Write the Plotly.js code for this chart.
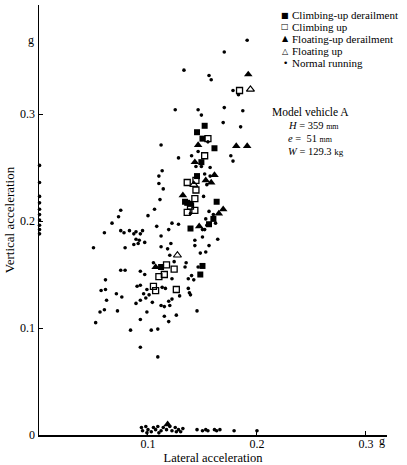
<!DOCTYPE html>
<html><head><meta charset="utf-8">
<script src="https://cdn.plot.ly/plotly-3.0.1.min.js"></script>
<style>html,body{margin:0;padding:0;background:#fff}#chart{width:407px;height:465px}</style>
</head><body><div id="chart"></div>
<script>
// ---- data ----
const seriesNames = ['Climbing-up derailment', 'Climbing up', 'Floating-up derailment', 'Floating up', 'Normal running'];
const legendGlyphs = ['\u25A0', '\u25A1', '\u25B2', '\u25B3', '\u2022'];

const climbDerX = [0.152,0.145,0.150,0.161,0.149,0.145,0.163,0.134,0.136,0.139,0.160,0.156,0.139,0.112,0.150,0.148];
const climbDerY = [0.289,0.283,0.277,0.268,0.255,0.242,0.218,0.218,0.217,0.216,0.202,0.197,0.193,0.157,0.158,0.150];

const climbX = [0.184,0.155,0.152,0.136,0.144,0.144,0.143,0.139,0.136,0.143,0.117,0.124,0.115,0.110,0.105,0.107,0.126];
const climbY = [0.322,0.277,0.261,0.236,0.238,0.229,0.221,0.214,0.208,0.210,0.159,0.155,0.150,0.148,0.139,0.135,0.136];

const floatDerX = [0.192,0.146,0.181,0.191,0.143,0.161,0.153,0.158,0.132,0.169,0.165,0.147,0.107,0.118];
const floatDerY = [0.337,0.271,0.270,0.270,0.255,0.243,0.238,0.236,0.224,0.211,0.207,0.195,0.157,0.010];

const floatX = [0.194,0.142,0.127];
const floatY = [0.323,0.234,0.168];

const normalX = [
  0.191,0.170,0.133,0.156,0.158,0.178,0.183,0.125,0.146,0.149,0.170,0.187,0.169,0.185,0.155,0.112,0.128,0.140,0.146,0.176,
  0.178,0.149,0.157,0.144,0.113,0.110,0.152,0.157,0.154,0.110,0.114,0.151,0.111,0.139,0.156,0.106,0.100,0.160,0.153,0.162,
  0.154,0.150,0.152,0.122,0.128,0.108,0.119,0.095,0.093,0.150,0.164,0.112,0.097,0.121,0.143,0.143,0.156,0.112,0.118,0.148,
  0.153,0.120,0.124,0.135,0.134,0.105,0.146,0.122,0.097,0.140,0.137,0.142,0.113,0.116,0.137,0.138,0.139,0.129,0.096,0.099,
  0.101,0.098,0.093,0.122,0.119,0.104,0.112,0.115,0.120,0.145,0.126,0.115,0.099,0.090,
  0.075,0.073,0.067,0.060,0.075,0.078,0.083,0.087,0.089,0.089,0.092,0.087,0.091,0.050,0.079,0.075,0.079,0.093,
  0.061,0.057,0.061,0.071,0.076,0.062,0.089,0.093,0.056,0.060,0.072,0.052,0.093,0.119,0.084,0.103,0.109,0.093,0.109,
  0.0005,0.0005,0.0005,0.0005,0.0005,0.0005,0.0005,0.0005,0.0005,0.0005,
  0.094,0.095,0.098,0.100,0.103,0.105,0.107,0.109,0.112,0.114,0.117,0.120,0.122,0.125,0.128,0.130,0.132,0.099,0.110,0.126,
  0.145,0.150,0.153,0.155,0.161,0.163,0.166,0.179,0.200
];
const normalY = [
  0.369,0.358,0.341,0.336,0.332,0.322,0.318,0.304,0.304,0.299,0.306,0.303,0.292,0.288,0.274,0.271,0.259,0.261,0.265,0.261,
  0.256,0.251,0.250,0.251,0.247,0.242,0.244,0.242,0.234,0.235,0.230,0.223,0.220,0.207,0.209,0.211,0.205,0.206,0.202,0.198,
  0.196,0.192,0.192,0.198,0.197,0.195,0.192,0.191,0.188,0.185,0.183,0.186,0.180,0.179,0.182,0.177,0.177,0.176,0.174,0.170,
  0.171,0.168,0.162,0.161,0.157,0.161,0.157,0.146,0.150,0.149,0.146,0.145,0.138,0.137,0.137,0.133,0.131,0.130,0.132,0.136,
  0.131,0.128,0.140,0.127,0.125,0.124,0.121,0.120,0.121,0.116,0.112,0.111,0.115,0.139,
  0.210,0.204,0.198,0.189,0.191,0.189,0.191,0.188,0.190,0.183,0.182,0.178,0.179,0.175,0.175,0.154,0.154,0.153,
  0.145,0.135,0.136,0.132,0.129,0.126,0.123,0.126,0.115,0.117,0.116,0.105,0.108,0.106,0.098,0.098,0.099,0.082,0.073,
  0.252,0.236,0.223,0.217,0.211,0.206,0.201,0.196,0.192,0.188,
  0.007,0.004,0.008,0.005,0.003,0.007,0.005,0.008,0.004,0.007,0.005,0.008,0.004,0.007,0.005,0.003,0.006,0.002,0.002,0.003,
  0.005,0.004,0.005,0.004,0.005,0.004,0.005,0.004,0.004
];

const xTickVals = [0.1, 0.2, 0.3];
const xTickText = ['0.1', '0.2', '0.3'];
const yTickVals = [0, 0.1, 0.2, 0.3];
const yTickText = ['0', '0.1', '0.2', '0.3'];
const unitLabel = 'g';
const xUnitPos = [0.3147];
const yUnitPos = [0.369];
const vehicleLines = ['Model vehicle A', '<i>H</i> = 359 <span style="font-size:8px">mm</span>',
  '<i>e</i> =  51 <span style="font-size:8px">mm</span>', '<i>W</i> = 129.3 <span style="font-size:9px">kg</span>'];

// ---- layout helpers ----
const W = 407, H = 465, ML = 39, MR = 20, MT = 5, MB = 30;
const fx = p => (p - ML) / (W - ML - MR);
const fy = p => (H - MB - p) / (H - MT - MB);
const serif = 'Liberation Serif, Times New Roman, serif';
const XR = [0, 0.3193], YR = [0, 0.4019];

const mk = (x, y, name, symbol, size, lw) => ({
  type: 'scatter', mode: 'markers', x: x, y: y, name: name, cliponaxis: false,
  marker: {symbol: symbol, size: size, color: '#000', line: {color: '#000', width: lw}}
});

const data = [
  mk(normalX, normalY, seriesNames[4], 'circle', 3.6, 0),
  mk(climbDerX, climbDerY, seriesNames[0], 'square', 6, 0),
  mk(climbX, climbY, seriesNames[1], 'square-open', 6, 1.3),
  mk(floatDerX, floatDerY, seriesNames[2], 'triangle-up', 7.5, 0),
  mk(floatX, floatY, seriesNames[3], 'triangle-up-open', 7, 1.2),
  // empty trace so the overlay unit axes (x2/y2) get drawn
  {type: 'scatter', mode: 'markers', x: [], y: [], xaxis: 'x2', yaxis: 'y2', showlegend: false, hoverinfo: 'skip'}
];

const ann = [];
const rowY = [15, 27, 39, 51, 63];
seriesNames.forEach((n, i) => {
  ann.push({xref: 'paper', yref: 'paper', x: fx(285), y: fy(rowY[i]), xanchor: 'center', yanchor: 'middle',
    text: legendGlyphs[i], showarrow: false, font: {family: 'DejaVu Sans', size: i === 4 ? 9 : 8, color: '#000'}});
  ann.push({xref: 'paper', yref: 'paper', x: fx(290), y: fy(rowY[i]), xanchor: 'left', yanchor: 'middle',
    text: n, showarrow: false, font: {family: serif, size: 11, color: '#000'}});
});
const vY = [112, 125.5, 138.5, 151];
vehicleLines.forEach((t, i) => {
  ann.push({xref: 'paper', yref: 'paper', x: fx(i === 0 ? 270 : 286), y: fy(vY[i]), xanchor: 'left', yanchor: 'middle',
    text: t, showarrow: false, font: {family: serif, size: i === 0 ? 11.5 : 10.5, color: '#000'}});
});

const axisBase = {
  showline: true, linecolor: '#000', linewidth: 1.5, showgrid: false, zeroline: false,
  ticks: 'inside', ticklen: 4, tickwidth: 1, tickcolor: '#000', mirror: false,
  tickfont: {family: serif, size: 12, color: '#000'}
};
// overlay axes that only carry the unit label "g" at the axis ends
const unitAxis = {showline: false, showgrid: false, zeroline: false, ticks: '', tickmode: 'array',
  ticktext: [unitLabel], tickfont: {family: serif, size: 12, color: '#000'}, fixedrange: true};

const layout = {
  width: W, height: H, showlegend: false,
  paper_bgcolor: '#fff', plot_bgcolor: '#fff',
  margin: {l: ML, r: MR, t: MT, b: MB, pad: 0},
  font: {family: serif, color: '#000'},
  xaxis: Object.assign({}, axisBase, {range: XR, tickmode: 'array', tickvals: xTickVals, ticktext: xTickText,
    ticklabelstandoff: -3,
    title: {text: 'Lateral acceleration', font: {family: serif, size: 12.5, color: '#000'}, standoff: 0}}),
  yaxis: Object.assign({}, axisBase, {range: YR, tickmode: 'array', tickvals: yTickVals, ticktext: yTickText,
    title: {text: 'Vertical acceleration', font: {family: serif, size: 13, color: '#000'}, standoff: 2}}),
  xaxis2: Object.assign({}, unitAxis, {range: XR, overlaying: 'x', anchor: 'y2', side: 'bottom', tickvals: xUnitPos,
    ticklabelstandoff: -3}),
  yaxis2: Object.assign({}, unitAxis, {range: YR, overlaying: 'y', anchor: 'x2', side: 'left', tickvals: yUnitPos,
    ticklabelstandoff: 4}),
  annotations: ann
};

Plotly.newPlot('chart', data, layout, {staticPlot: true, displayModeBar: false});
</script>
</body></html>
